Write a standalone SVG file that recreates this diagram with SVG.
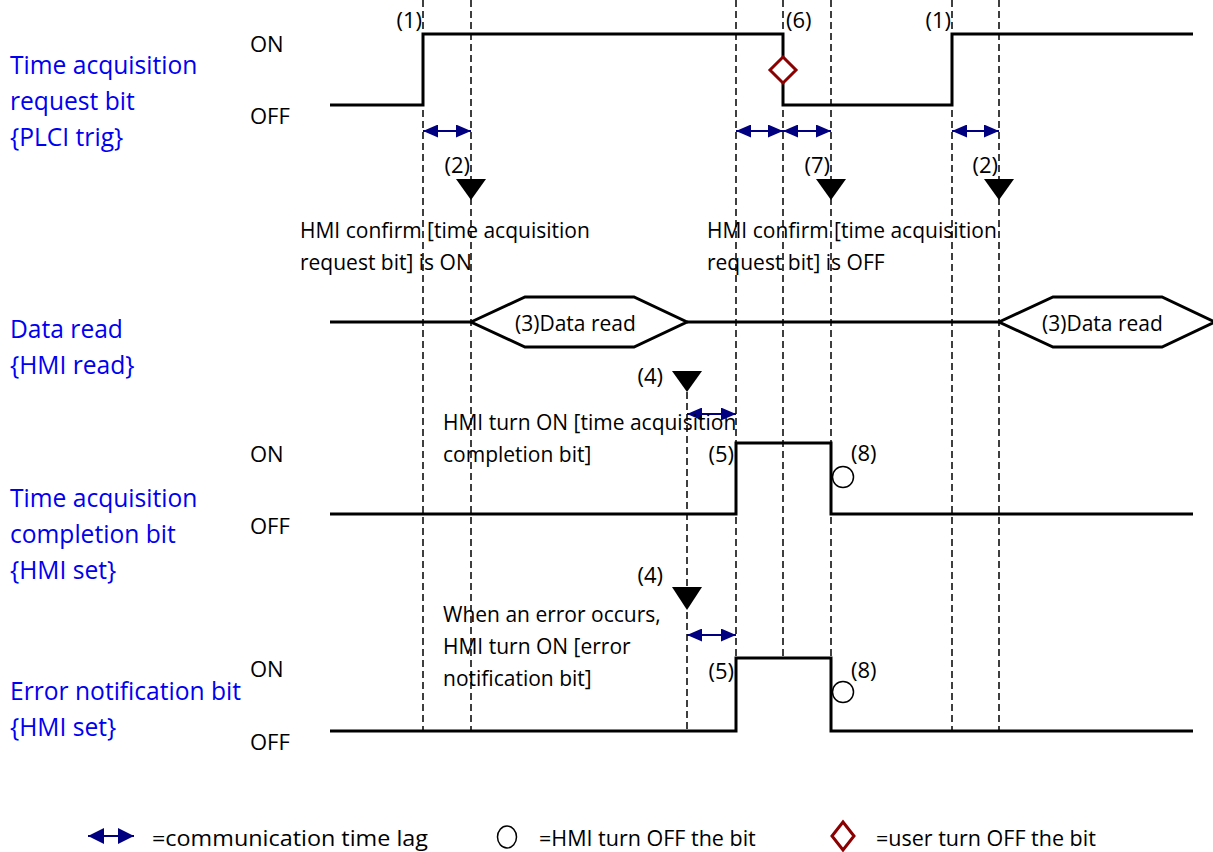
<svg xmlns="http://www.w3.org/2000/svg" width="1213" height="852" viewBox="0 0 1213 852">
<style>
text{font-family:"Open Sans","Liberation Sans",sans-serif;font-size:21px;fill:#000}
.lbl{font-size:24.6px;fill:#0000F0}
.st{font-size:22px}
.num{font-size:22px}
.e{text-anchor:end}
.leg{font-size:21.5px}
.sig{fill:none;stroke:#000;stroke-width:3;stroke-linejoin:miter}
.dash{stroke:#000;stroke-width:1.5;stroke-dasharray:7 4;fill:none}
.lag{stroke:#000080;stroke-width:2;marker-start:url(#ah);marker-end:url(#ah)}
.tri{fill:#000}
.circ{fill:#fff;stroke:#000;stroke-width:1.5}
.dia{fill:#fff;stroke:#8B0000;stroke-width:3}
</style>
<defs>
<marker id="ah" viewBox="0 0 15 13" refX="15" refY="6.5" markerWidth="15" markerHeight="13" markerUnits="userSpaceOnUse" orient="auto-start-reverse">
<path d="M0,0 L15,6.5 L0,13 Z" fill="#000080"/>
</marker>
<marker id="ahL" viewBox="0 0 16 16" refX="16" refY="8" markerWidth="16" markerHeight="16" markerUnits="userSpaceOnUse" orient="auto-start-reverse">
<path d="M0,0 L16,8 L0,16 Z" fill="#000080"/>
</marker>
</defs>
<rect width="1213" height="852" fill="#fff"/>

<g id="row-labels">
<text class="lbl" x="10" y="74">Time acquisition</text>
<text class="lbl" x="10" y="110">request bit</text>
<text class="lbl" x="10" y="146">{PLCI trig}</text>
<text class="lbl" x="10" y="338">Data read</text>
<text class="lbl" x="10" y="374">{HMI read}</text>
<text class="lbl" x="10" y="507">Time acquisition</text>
<text class="lbl" x="10" y="543">completion bit</text>
<text class="lbl" x="10" y="579">{HMI set}</text>
<text class="lbl" x="10" y="700">Error notification bit</text>
<text class="lbl" x="10" y="736">{HMI set}</text>
<text class="st" x="250" y="52">ON</text>
<text class="st" x="250" y="124">OFF</text>
<text class="st" x="250" y="462">ON</text>
<text class="st" x="250" y="534">OFF</text>
<text class="st" x="250" y="677">ON</text>
<text class="st" x="250" y="750">OFF</text>
</g>

<g id="connectors">
<line class="dash" x1="423" y1="0" x2="423" y2="731"/>
<line class="dash" x1="471" y1="0" x2="471" y2="731"/>
<line class="dash" x1="687" y1="392" x2="687" y2="731"/>
<line class="dash" x1="736" y1="0" x2="736" y2="731"/>
<line class="dash" x1="783" y1="0" x2="783" y2="658"/>
<line class="dash" x1="831" y1="0" x2="831" y2="731"/>
<line class="dash" x1="952" y1="0" x2="952" y2="731"/>
<line class="dash" x1="999" y1="0" x2="999" y2="731"/>
<line class="lag" x1="423" y1="131" x2="471" y2="131"/>
<line class="lag" x1="736" y1="131" x2="783" y2="131"/>
<line class="lag" x1="783" y1="131" x2="831" y2="131"/>
<line class="lag" x1="952" y1="131" x2="999" y2="131"/>
<line class="lag" x1="687" y1="414" x2="736" y2="414"/>
<line class="lag" x1="687" y1="635" x2="736" y2="635"/>
</g>

<g id="request-bit">
<path class="sig" d="M330,105 H423 V34 H783 V105 H952 V34 H1193"/>
<text class="num e" x="422" y="28">(1)</text>
<text class="num" x="786" y="28">(6)</text>
<text class="num e" x="951" y="28">(1)</text>
<path class="dia" d="M783,57 L796,70 L783,83 L770,70 Z"/>
</g>

<g id="confirm-on">
<polygon class="tri" points="456,179 486,179 471,200"/>
<text class="num e" x="470" y="173">(2)</text>
<text x="300" y="238">HMI confirm [time acquisition</text>
<text x="300" y="270">request bit] is ON</text>
</g>

<g id="confirm-off">
<polygon class="tri" points="816,179 846,179 831,200"/>
<text class="num e" x="830" y="173">(7)</text>
<text x="707" y="238">HMI confirm [time acquisition</text>
<text x="707" y="270">request bit] is OFF</text>
</g>

<g id="confirm-on-2">
<polygon class="tri" points="984,179 1014,179 999,200"/>
<text class="num e" x="998" y="173">(2)</text>
</g>

<g id="data-read">
<path class="sig" d="M330,322 H471 M687,322 H999"/>
<path class="sig" d="M471,322 L525,297 H634 L687,322 L634,347 H525 Z"/>
<path class="sig" d="M999,322 L1053,297 H1162 L1215,322 L1162,347 H1053 Z"/>
<text x="515" y="331">(3)Data read</text>
<text x="1042" y="331">(3)Data read</text>
</g>

<g id="completion-bit">
<polygon class="tri" points="672,371 702,371 687,392"/>
<text class="num e" x="663" y="384">(4)</text>
<text x="443" y="430">HMI turn ON [time acquisition</text>
<text x="443" y="462">completion bit]</text>
<path class="sig" d="M330,514 H736 V443 H831 V514 H1193"/>
<text class="num e" x="734" y="462">(5)</text>
<text class="num" x="851" y="461">(8)</text>
<circle class="circ" cx="843" cy="477" r="10.5"/>
</g>

<g id="error-bit">
<polygon class="tri" points="672,587 702,587 687,610"/>
<text class="num e" x="663" y="583">(4)</text>
<text x="443" y="622">When an error occurs,</text>
<text x="443" y="654">HMI turn ON [error</text>
<text x="443" y="686">notification bit]</text>
<path class="sig" d="M330,731 H736 V658 H831 V731 H1193"/>
<text class="num e" x="734" y="679">(5)</text>
<text class="num" x="851" y="678">(8)</text>
<circle class="circ" cx="843" cy="692" r="10.5"/>
</g>

<g id="legend">
<line x1="88" y1="836" x2="134" y2="836" stroke="#000080" stroke-width="2" marker-start="url(#ahL)" marker-end="url(#ahL)"/>
<text class="leg" x="152" y="846" textLength="276" lengthAdjust="spacingAndGlyphs">=communication time lag</text>
<ellipse class="circ" cx="507" cy="837" rx="9.5" ry="11"/>
<text class="leg" x="539" y="846">=HMI turn OFF the bit</text>
<path class="dia" d="M843,822 L854,836 L843,850 L832,836 Z"/>
<text class="leg" x="876" y="846">=user turn OFF the bit</text>
</g>
</svg>
